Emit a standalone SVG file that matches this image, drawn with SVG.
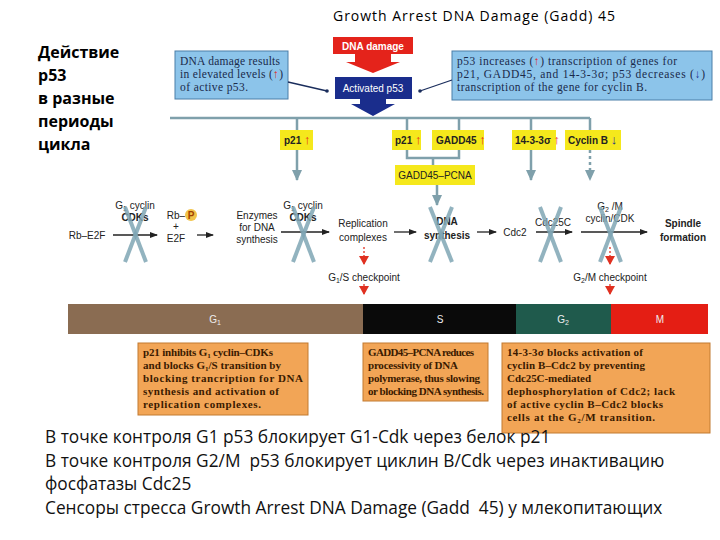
<svg xmlns="http://www.w3.org/2000/svg" width="720" height="540" viewBox="0 0 720 540">
<defs>
<style>
.s{font-family:"Liberation Sans",Arial,sans-serif;font-size:10px;fill:#222}
.b{font-weight:bold}
.m{text-anchor:middle}
.ser{font-family:"Liberation Serif","Times New Roman",serif;font-size:11.5px;fill:#1a2a4a}
.ob{font-family:"Liberation Serif","Times New Roman",serif;font-size:11px;fill:#3a1a00;font-weight:bold}
.ru{font-family:"Open Sans","Noto Sans",sans-serif;font-size:17.3px;fill:#111;white-space:pre}
.yb{fill:#f5e81c}
.bl{stroke:#7fa0ab;stroke-width:2.5;fill:none}
.ar{stroke:#222;stroke-width:1.3;fill:none}
.x{stroke:#7fa6b5;stroke-width:4;opacity:0.85}
.or{fill:#f2a556;stroke:#c27a30;stroke-width:1}
.up{fill:#e4231b;font-size:13px}
</style>
<marker id="ah" markerWidth="8" markerHeight="8" refX="7" refY="4" orient="auto" markerUnits="userSpaceOnUse"><path d="M0,1 L8,4 L0,7 z" fill="#222"/></marker>
<marker id="bh" markerWidth="12" markerHeight="10" refX="10" refY="5" orient="auto" markerUnits="userSpaceOnUse"><path d="M0,0 L11,5 L0,10 z" fill="#7fa0ab"/></marker>
<marker id="rh" markerWidth="10" markerHeight="10" refX="8" refY="5" orient="auto" markerUnits="userSpaceOnUse"><path d="M0,0 L9,5 L0,10 z" fill="#e03020"/></marker>
</defs>
<rect width="720" height="540" fill="#fff"/>
<text x="474" y="21" class="m" style="font-family:'Open Sans',sans-serif;font-size:14px" textLength="282">Growth Arrest DNA Damage (Gadd) 45</text>
<g id="left-title" style="font-family:'Open Sans','Noto Sans',sans-serif;font-size:16px;font-weight:bold">
<text x="38" y="58">Действие</text><text x="38" y="81">p53</text><text x="38" y="104">в разные</text><text x="38" y="127">периоды</text><text x="38" y="150">цикла</text>
</g>
<g id="dna-damage"><rect x="333" y="37" width="80" height="17" fill="#e4231b"/><text x="373" y="50" class="s b m" style="fill:#fff">DNA damage</text>
<path d="M355,54 H391 V62 H400 L373,73 L346,62 H355 Z" fill="#e4231b"/></g>
<g id="activated-p53"><rect x="335" y="77" width="77" height="22" fill="#1a2d8c"/><text x="373" y="92" class="s m" style="fill:#fff">Activated p53</text>
<path d="M360,99 H386 V104 H395 L373,116 L351,104 H360 Z" fill="#1a2d8c"/></g>
<g id="note-left"><rect x="175" y="51" width="113" height="48" fill="#8cc4ea" stroke="#4a7ea8"/>
<text class="ser" x="180" y="65" textLength="100">DNA damage results</text><text class="ser" x="180" y="78" textLength="103">in elevated levels (<tspan fill="#e4231b">↑</tspan>)</text><text class="ser" x="180" y="91" textLength="68">of active p53.</text>
<line x1="288" y1="82" x2="327" y2="91" stroke="#1a2d5c" stroke-width="1.3"/><circle cx="327" cy="91" r="1.8" fill="#1a2d5c"/></g>
<g id="note-right"><rect x="452" y="51" width="260" height="49" fill="#8cc4ea" stroke="#4a7ea8"/>
<text class="ser" x="457" y="65" textLength="220">p53 increases (<tspan fill="#e4231b">↑</tspan>) transcription of genes for</text><text class="ser" x="457" y="78" textLength="248">p21, GADD45, and 14-3-3σ; p53 decreases (<tspan fill="#1a2d8c">↓</tspan>)</text><text class="ser" x="457" y="91" textLength="190">transcription of the gene for cyclin B.</text>
<line x1="452" y1="80" x2="420" y2="91" stroke="#1a2d5c" stroke-width="1.3"/><circle cx="420" cy="91" r="1.8" fill="#1a2d5c"/></g>
<g id="connectors">
<path class="bl" d="M170,118 H590 M297,118 V130 M407,118 V130 M459,118 V130 M531,118 V130 M590,118 V130"/>
<path class="bl" d="M297,150 V180" marker-end="url(#bh)"/>
<path class="bl" d="M407,150 V158 H459 V150 M433,158 V165"/>
<path class="bl" d="M437,185 V205" marker-end="url(#bh)"/>
<path class="bl" d="M531,150 V180" marker-end="url(#bh)"/>
<path class="bl" d="M590,150 V180" stroke-dasharray="3,3" marker-end="url(#bh)"/>
<path class="ar" d="M113,235 H157" marker-end="url(#ah)"/>
<path class="ar" d="M197,235 H213" marker-end="url(#ah)"/>
<path class="ar" d="M281,232 H329" marker-end="url(#ah)"/>
<path class="ar" d="M394,232 H416" marker-end="url(#ah)" stroke-width="2"/>
<path class="ar" d="M477,232 H496" marker-end="url(#ah)" stroke-width="2"/>
<path class="ar" d="M536,232 H572" marker-end="url(#ah)"/>
<path class="ar" d="M581,232 H647" marker-end="url(#ah)"/>
<path d="M364,247 V264" stroke="#e03020" stroke-width="1.3" stroke-dasharray="2,2" marker-end="url(#rh)"/>
<path d="M364,284 V294" stroke="#e03020" stroke-width="1.3" marker-end="url(#rh)"/>
<path d="M610,247 V264" stroke="#e03020" stroke-width="1.3" stroke-dasharray="2,2" marker-end="url(#rh)"/>
<path d="M610,284 V294" stroke="#e03020" stroke-width="1.3" marker-end="url(#rh)"/>
</g>
<g id="yellow-nodes">
<g id="p21a"><rect class="yb" x="280" y="130" width="33" height="20"/><text class="s b" x="284" y="144">p21 <tspan class="up">↑</tspan></text></g>
<g id="p21b"><rect class="yb" x="392" y="130" width="29" height="20"/><text class="s b" x="395" y="144">p21 <tspan class="up">↑</tspan></text></g>
<g id="gadd45"><rect class="yb" x="432" y="130" width="52" height="20"/><text class="s b" x="436" y="144">GADD45 <tspan class="up">↑</tspan></text></g>
<g id="s1433"><rect class="yb" x="512" y="130" width="44" height="20"/><text class="s b" x="515" y="144">14-3-3σ <tspan class="up">↑</tspan></text></g>
<g id="cyclinb"><rect class="yb" x="565" y="130" width="56" height="20"/><text class="s b" x="568" y="144">Cyclin B <tspan class="up" style="fill:#1a2d8c">↓</tspan></text></g>
<g id="gadd45-pcna"><rect class="yb" x="395" y="165" width="80" height="20"/><text class="s m" x="435" y="179">GADD45–PCNA</text></g>
</g>
<g id="pathway" class="s">
<text x="87" y="239" class="s m">Rb–E2F</text>
<text x="135" y="209" class="s m">G<tspan font-size="7" dy="2">1</tspan><tspan dy="-2"> cyclin</tspan></text><text x="135" y="221" class="s m b">CDKs</text>
<text x="176" y="219" class="s m">Rb–</text><circle cx="191" cy="215" r="6" fill="#f2c44a"/><text x="191" y="219" class="s m b" style="fill:#a04000">P</text>
<text x="176" y="230" class="s m">+</text><text x="176" y="242" class="s m">E2F</text>
<text x="257" y="219" class="s m">Enzymes</text><text x="257" y="231" class="s m">for DNA</text><text x="257" y="243" class="s m">synthesis</text>
<text x="303" y="209" class="s m">G<tspan font-size="7" dy="2">1</tspan><tspan dy="-2"> cyclin</tspan></text><text x="303" y="221" class="s m b">CDKs</text>
<text x="363" y="227" class="s m">Replication</text><text x="363" y="241" class="s m">complexes</text>
<text x="447" y="225" class="s m b">DNA</text><text x="447" y="239" class="s m b">synthesis</text>
<text x="515" y="236" class="s m">Cdc2</text>
<text x="553" y="226" class="s m">Cdc25C</text>
<text x="610" y="210" class="s m">G<tspan font-size="7" dy="2">2</tspan><tspan dy="-2"> /M</tspan></text><text x="610" y="222" class="s m">cyclin/CDK</text>
<text x="683" y="227" class="s m b">Spindle</text><text x="683" y="241" class="s m b">formation</text>
<text x="364" y="281" class="s m">G<tspan font-size="7" dy="2">1</tspan><tspan dy="-2">/S checkpoint</tspan></text>
<text x="610" y="281" class="s m">G<tspan font-size="7" dy="2">2</tspan><tspan dy="-2">/M checkpoint</tspan></text>
</g>
<g id="blocks">
<line class="x" x1="125" y1="207" x2="146" y2="262"/><line class="x" x1="146" y1="207" x2="125" y2="262"/>
<line class="x" x1="293" y1="207" x2="314" y2="262"/><line class="x" x1="314" y1="207" x2="293" y2="262"/>
<line class="x" x1="430" y1="207" x2="452" y2="262"/><line class="x" x1="452" y1="207" x2="430" y2="262"/>
<line class="x" x1="540" y1="207" x2="561" y2="262"/><line class="x" x1="561" y1="207" x2="540" y2="262"/>
<line class="x" x1="600" y1="207" x2="621" y2="262"/><line class="x" x1="621" y1="207" x2="600" y2="262"/>
</g>
<g id="phases">
<rect x="68" y="304" width="295" height="30" fill="#8a6c52"/>
<rect x="363" y="304" width="153" height="30" fill="#0a0a0a"/>
<rect x="516" y="304" width="95" height="30" fill="#1f5a4c"/>
<rect x="611" y="304" width="97" height="30" fill="#e41e14"/>
<text x="215" y="323" class="s m" style="fill:#eee">G<tspan font-size="7" dy="2">1</tspan></text>
<text x="440" y="323" class="s m" style="fill:#eee">S</text>
<text x="563" y="323" class="s m" style="fill:#eee">G<tspan font-size="7" dy="2">2</tspan></text>
<text x="660" y="323" class="s m" style="fill:#eee">M</text>
</g>
<g id="box1"><rect class="or" x="138" y="343" width="170" height="72"/>
<text class="ob" x="143" y="356" textLength="130">p21 inhibits G<tspan font-size="7" dy="2">1</tspan><tspan dy="-2"> cyclin–CDKs</tspan></text><text class="ob" x="143" y="369" textLength="138">and blocks G<tspan font-size="7" dy="2">1</tspan><tspan dy="-2">/S transition by</tspan></text><text class="ob" x="143" y="382" textLength="160">blocking trancription for DNA</text><text class="ob" x="143" y="395" textLength="136">synthesis and activation of</text><text class="ob" x="143" y="408" textLength="118">replication complexes.</text></g>
<g id="box2"><rect class="or" x="363" y="343" width="125" height="58"/>
<text class="ob" x="368" y="356" textLength="106">GADD45–PCNA reduces</text><text class="ob" x="368" y="369" textLength="90">processivity of DNA</text><text class="ob" x="368" y="382" textLength="112">polymerase, thus slowing</text><text class="ob" x="368" y="395" textLength="116">or blocking DNA synthesis.</text></g>
<g id="box3"><rect class="or" x="502" y="343" width="208" height="90"/>
<text class="ob" x="507" y="356" textLength="136">14-3-3σ blocks activation of</text><text class="ob" x="507" y="369" textLength="138">cyclin B–Cdc2 by preventing</text><text class="ob" x="507" y="382" textLength="84">Cdc25C-mediated</text><text class="ob" x="507" y="395" textLength="168">dephosphorylation of Cdc2; lack</text><text class="ob" x="507" y="408" textLength="156">of active cyclin B–Cdc2 blocks</text><text class="ob" x="507" y="421" textLength="148">cells at the G<tspan font-size="7" dy="2">2</tspan><tspan dy="-2">/M transition.</tspan></text></g>
<g id="bottom-text" class="ru">
<text x="45" y="443" xml:space="preserve">В точке контроля G1 p53 блокирует G1-Cdk через белок р21</text>
<text x="45" y="467" xml:space="preserve">В точке контроля G2/M  p53 блокирует циклин B/Cdk через инактивацию</text>
<text x="45" y="490" xml:space="preserve">фосфатазы Cdc25</text>
<text x="45" y="514" xml:space="preserve">Сенсоры стресса Growth Arrest DNA Damage (Gadd  45) у млекопитающих</text>
</g>
</svg>
